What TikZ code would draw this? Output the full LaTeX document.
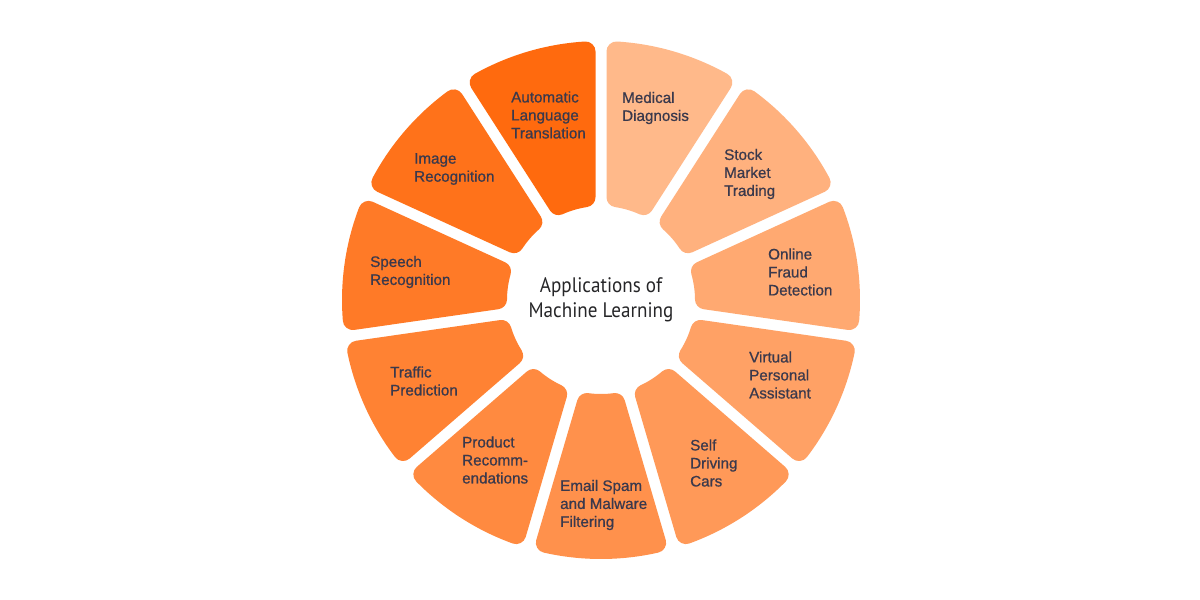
\documentclass[tikz,border=0pt]{standalone}
\usepackage{fontspec}
\setmainfont{Liberation Sans}
\newfontfamily\labfont{Liberation Sans}[FakeBold=0.8]
\newfontfamily\centerfont{PT Sans}[FakeStretch=0.91]
\usetikzlibrary{calc}
\definecolor{segA}{RGB}{255,185,138}
\definecolor{segB}{RGB}{255,106,14}
\definecolor{labtext}{RGB}{58,57,76}
\definecolor{centertext}{RGB}{38,38,40}
\tikzset{
  lab/.style={anchor=west, align=left, font=\labfont\fontsize{15.2}{18}\selectfont, text=labtext, inner sep=0pt},
  ctitle/.style={align=center, font=\centerfont\fontsize{21}{25}\selectfont, text=centertext, inner sep=0pt}
}
\begin{document}
\begin{tikzpicture}[x=1pt,y=1pt]
\useasboundingbox (0,0) rectangle (1200,-600);
\fill[white] (0,0) rectangle (1200,-600);
\coordinate (C) at (601,-300);
\def\Rout{259}
\def\Rin{94}
\def\rr{10}
\def\hg{5.5}
\pgfmathsetmacro\Ro{\Rout-\rr}
\pgfmathsetmacro\Ri{\Rin+\rr}
\pgfmathsetmacro\dd{\hg+\rr}
\pgfmathsetmacro\lw{2*\rr}
\pgfmathsetmacro\ao{asin(\dd/\Ro)}
\pgfmathsetmacro\ai{asin(\dd/\Ri)}
\foreach \k in {0,...,10}{
  \pgfmathsetmacro\bs{90-\k*360/11}
  \pgfmathsetmacro\be{\bs-360/11}
  \pgfmathsetmacro\sa{\bs-\ao}
  \pgfmathsetmacro\ea{\be+\ao}
  \pgfmathsetmacro\si{\be+\ai}
  \pgfmathsetmacro\ei{\bs-\ai}
  \pgfmathtruncatemacro\p{\k*10}
  \colorlet{segc}{segB!\p!segA}
  \path[fill=segc, draw=segc, line width=\lw pt, line join=round]
    ($(C)+(\sa:\Ro)$) arc[start angle=\sa, end angle=\ea, radius=\Ro]
    -- ($(C)+(\si:\Ri)$) arc[start angle=\si, end angle=\ei, radius=\Ri] -- cycle;
}
\node[ctitle] (title) at (601,-300) {Applications of\\Machine Learning};
\node[lab] (med) at (622,-108) {Medical\\Diagnosis};
\node[lab] (stock) at (724,-174) {Stock\\Market\\Trading};
\node[lab] (fraud) at (768,-272) {Online\\Fraud\\Detection};
\node[lab] (virt) at (749,-375) {Virtual\\Personal\\Assistant};
\node[lab] (self) at (690,-463) {Self\\Driving\\Cars};
\node[lab] (email) at (560,-505) {Email Spam\\and Malware\\Filtering};
\node[lab] (prod) at (462,-460) {Product\\Recomm-\\endations};
\node[lab] (traffic) at (390,-381) {Traffic\\Prediction};
\node[lab] (speech) at (370,-272) {Speech\\Recognition};
\node[lab] (image) at (414,-169) {Image\\Recognition};
\node[lab] (auto) at (511,-115) {Automatic\\Language\\Translation};
\end{tikzpicture}
\end{document}
